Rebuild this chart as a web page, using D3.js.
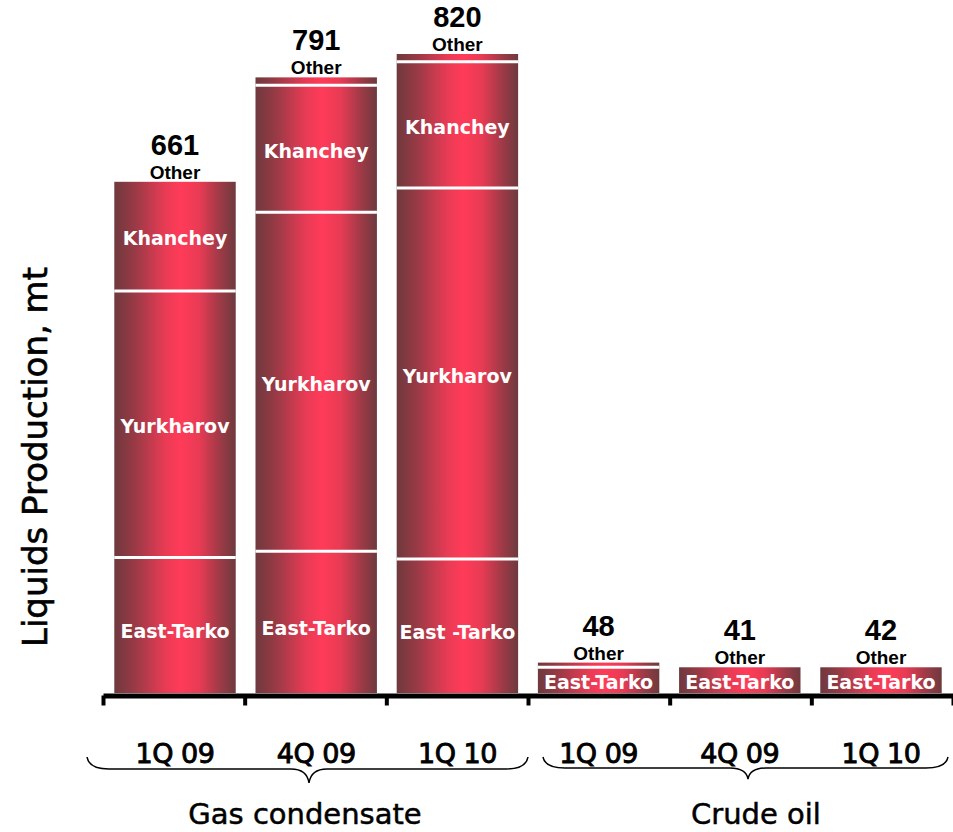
<!DOCTYPE html>
<html>
<head>
<meta charset="utf-8">
<script src="https://cdn.jsdelivr.net/npm/d3@7/dist/d3.min.js"></script>
<style>
  html, body { margin: 0; padding: 0; background: #ffffff; }
  svg { display: block; }
</style>
</head>
<body>
<div id="chart"></div>
<script>
// ---- data ----
const categories = ["1Q 09", "4Q 09", "1Q 10", "1Q 09", "4Q 09", "1Q 10"];
const groupNames = ["Gas condensate", "Crude oil"];
const groupOf = [0, 0, 0, 1, 1, 1];
const seriesNames = ["East-Tarko", "Yurkharov", "Khanchey", "Other"];
const eastTarko = [174, 182, 172, 33, 33, 33];
const yurkharov = [342, 435, 476, 0, 0, 0];
const khanchey = [140, 163, 162, 0, 0, 0];
const other = [0, 10, 10, 6, 0, 0];
const totals = [661, 791, 820, 48, 41, 42];
const eastTarkoLabels = ["East-Tarko", "East-Tarko", "East -Tarko", "East-Tarko", "East-Tarko", "East-Tarko"];
const yTitle = "Liquids Production, mt";

// ---- layout ----
const W = 953, H = 832;
const svg = d3.select("#chart").append("svg").attr("width", W).attr("height", H);

const defs = svg.append("defs");
const grad = defs.append("linearGradient").attr("id", "barGrad")
  .attr("x1", "0%").attr("x2", "100%").attr("y1", "0%").attr("y2", "0%");
[[0, "#6e393d"], [0.18, "#9c3a46"], [0.42, "#e93b55"], [0.55, "#ff3b58"], [0.7, "#e83b54"], [0.88, "#9a3a46"], [1, "#6d3a3e"]]
  .forEach(([o, c]) => grad.append("stop").attr("offset", o).attr("stop-color", c));

const idx = categories.map((d, i) => i);
const xOuter = d3.scaleLinear().domain([0, categories.length]).range([103, 953]);
const xBand = d3.scaleBand().domain(idx).range([103, 953]).paddingInner(0.14).paddingOuter(0.08);
const y = d3.scaleLinear().domain([0, 820]).range([693, 54]);

const rows = idx.map(i => ({
  i,
  "East-Tarko": eastTarko[i],
  "Yurkharov": yurkharov[i],
  "Khanchey": khanchey[i],
  "Other": other[i]
}));
const stacked = d3.stack().keys(seriesNames)(rows);

const gBars = svg.append("g");
stacked.forEach(layer => {
  layer.forEach(seg => {
    const v = seg[1] - seg[0];
    if (v <= 0) return;
    gBars.append("rect")
      .attr("x", xBand(seg.data.i))
      .attr("width", xBand.bandwidth())
      .attr("y", y(seg[1]))
      .attr("height", y(seg[0]) - y(seg[1]))
      .attr("fill", "url(#barGrad)");
  });
});

// white separators between segments
stacked.forEach((layer, li) => {
  if (li === 0) return;
  layer.forEach(seg => {
    if (seg[1] - seg[0] <= 0) return;
    gBars.append("line")
      .attr("x1", xBand(seg.data.i)).attr("x2", xBand(seg.data.i) + xBand.bandwidth())
      .attr("y1", y(seg[0])).attr("y2", y(seg[0]))
      .attr("stroke", "#ffffff").attr("stroke-width", 3);
  });
});

// segment labels
const segFont = "'DejaVu Sans', Verdana, sans-serif";
stacked.forEach((layer, li) => {
  const key = layer.key;
  if (key === "Other") return;
  layer.forEach(seg => {
    const v = seg[1] - seg[0];
    if (v <= 0) return;
    const i = seg.data.i;
    const cy = (y(seg[0]) + y(seg[1])) / 2;
    const isCrude = groupOf[i] === 1;
    const txt = key === "East-Tarko" ? eastTarkoLabels[i] : key;
    const dy = key === "East-Tarko" ? (isCrude ? 2 : 6) : 2;
    gBars.append("text")
      .attr("x", xBand(i) + xBand.bandwidth() / 2)
      .attr("y", cy + dy)
      .attr("dominant-baseline", "central")
      .attr("text-anchor", "middle")
      .attr("fill", "#ffffff")
      .attr("font-family", segFont)
      .attr("font-weight", "bold")
      .attr("font-size", 19)
      .text(txt);
  });
});

// totals and "Other" labels
const topLayer = stacked[stacked.length - 1];
topLayer.forEach(seg => {
  const i = seg.data.i;
  const top = y(seg[1]);
  const cx = xBand(i) + xBand.bandwidth() / 2;
  svg.append("text")
    .attr("x", cx).attr("y", top - 3)
    .attr("text-anchor", "middle")
    .attr("font-family", "'Liberation Sans', Arial, sans-serif")
    .attr("font-weight", "bold").attr("font-size", 19)
    .attr("fill", "#000").text("Other");
  svg.append("text")
    .attr("x", cx).attr("y", top - 27)
    .attr("text-anchor", "middle")
    .attr("font-family", "'Liberation Sans', Arial, sans-serif")
    .attr("font-weight", "bold").attr("font-size", 29)
    .attr("fill", "#000").text(totals[i]);
});

// x axis
const axis = d3.axisBottom(xOuter).tickValues(d3.range(0, categories.length + 1))
  .tickSize(10).tickSizeOuter(0).tickFormat("");
const gAxis = svg.append("g").attr("transform", "translate(0,695.5)").call(axis);
gAxis.select(".domain").attr("stroke", "#000").attr("stroke-width", 5);
gAxis.selectAll(".tick line").attr("stroke", "#000").attr("stroke-width", 4);

// category labels
svg.append("g").selectAll("text").data(idx).join("text")
  .attr("x", i => xBand(i) + xBand.bandwidth() / 2)
  .attr("y", 763)
  .attr("text-anchor", "middle")
  .attr("font-family", segFont)
  .attr("font-size", 27)
  .attr("fill", "#000")
  .attr("stroke", "#000").attr("stroke-width", 0.9)
  .attr("letter-spacing", -0.5)
  .text(i => categories[i]);

// braces + group labels
function bracePath(x0, x1, xt, yTop, yMid, yBot) {
  const p = d3.path();
  p.moveTo(x0, yTop);
  p.quadraticCurveTo(x0 + 2, yMid, x0 + 22, yMid);
  p.lineTo(xt - 18, yMid);
  p.quadraticCurveTo(xt - 2, yMid, xt, yBot);
  p.quadraticCurveTo(xt + 2, yMid, xt + 18, yMid);
  p.lineTo(x1 - 22, yMid);
  p.quadraticCurveTo(x1 - 2, yMid, x1, yTop);
  return p.toString();
}
const braceSpecs = [
  { g: 0, x0: 87, x1: 528, xt: 309, yTop: 757, yMid: 769, yBot: 783, lx: 305 },
  { g: 1, x0: 543, x1: 948, xt: 748, yTop: 757, yMid: 768, yBot: 779, lx: 756 }
];
braceSpecs.forEach(b => {
  svg.append("path").attr("d", bracePath(b.x0, b.x1, b.xt, b.yTop, b.yMid, b.yBot))
    .attr("fill", "none").attr("stroke", "#000").attr("stroke-width", 1.5);
  svg.append("text")
    .attr("x", b.lx).attr("y", 824)
    .attr("text-anchor", "middle")
    .attr("font-family", segFont)
    .attr("font-size", 29)
    .attr("fill", "#000")
    .attr("stroke", "#000").attr("stroke-width", 0.5)
    .text(groupNames[b.g]);
});

// y title
svg.append("text")
  .attr("transform", "translate(47,457) rotate(-90)")
  .attr("text-anchor", "middle")
  .attr("font-family", segFont)
  .attr("font-size", 34)
  .attr("fill", "#000")
  .attr("stroke", "#000").attr("stroke-width", 0.6)
  .text(yTitle);
</script>
</body>
</html>
